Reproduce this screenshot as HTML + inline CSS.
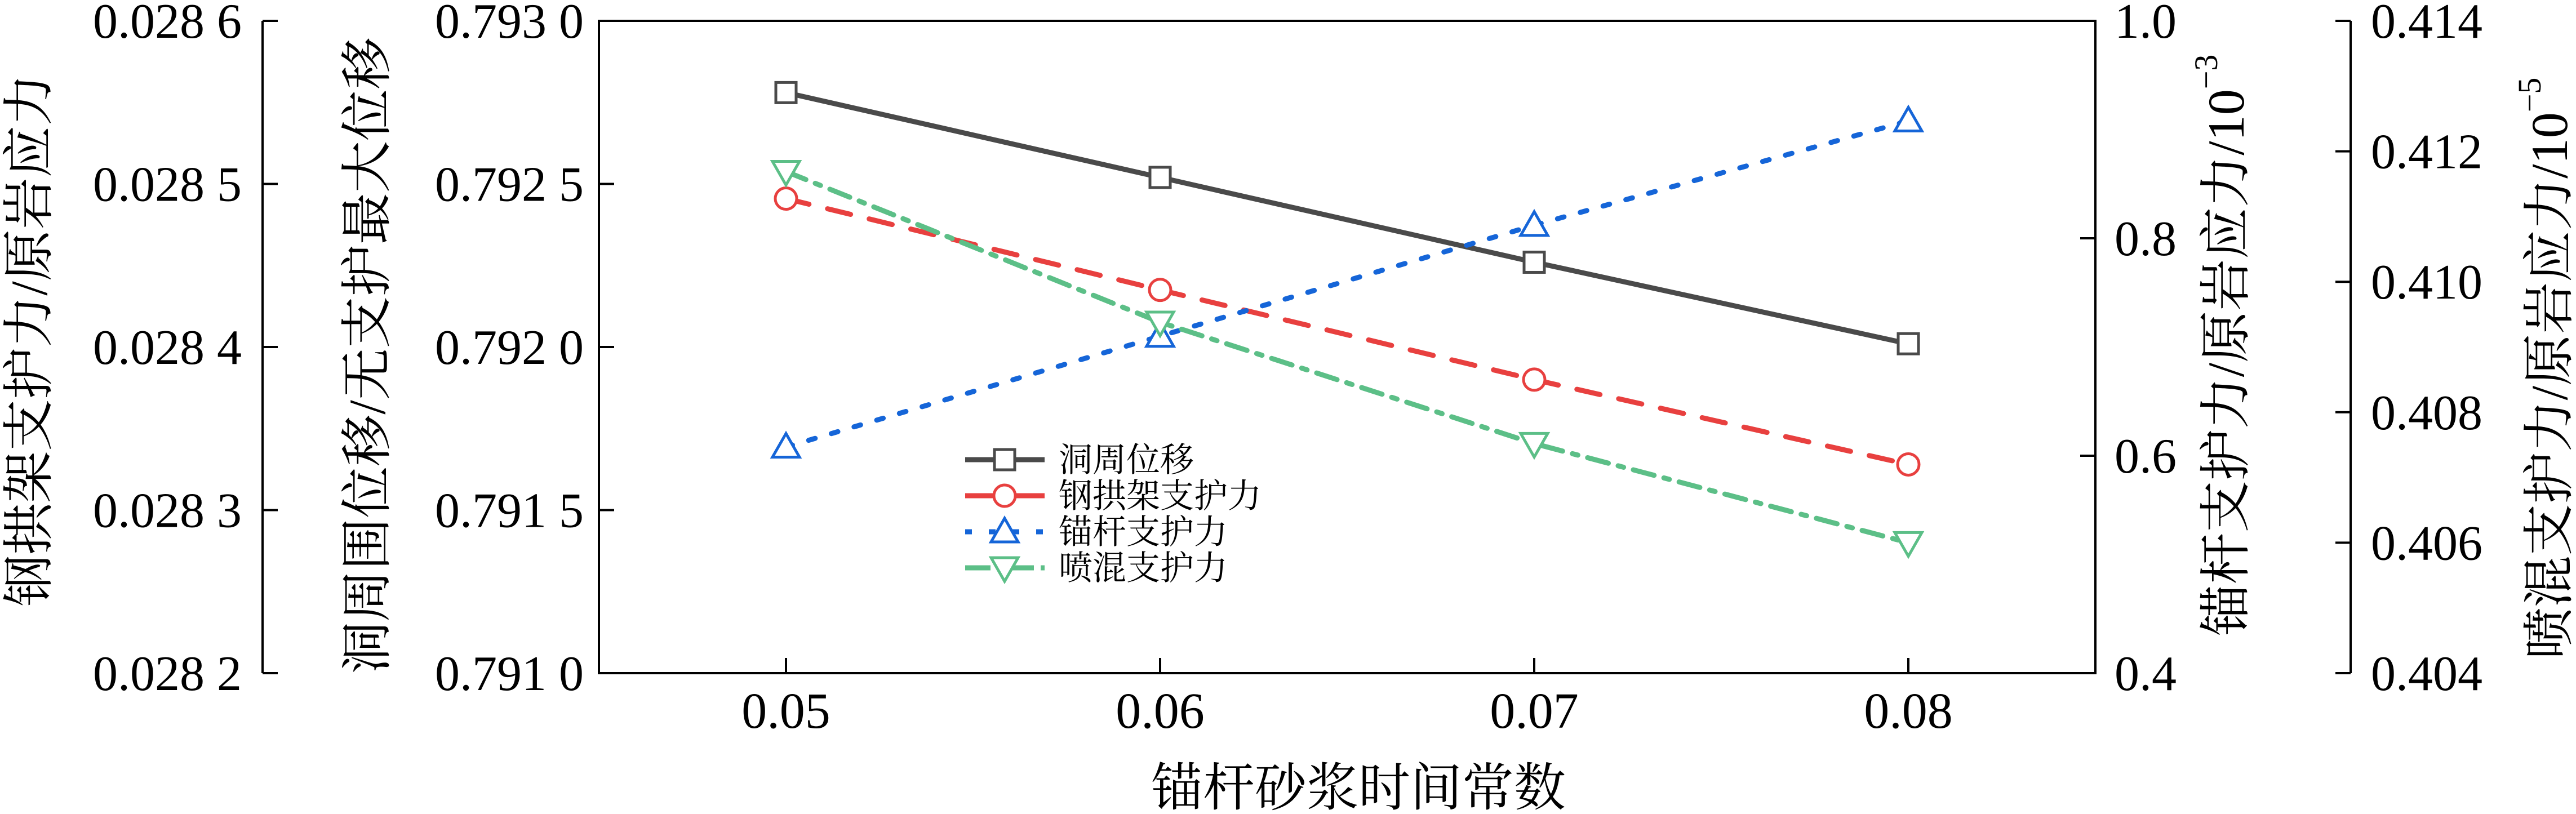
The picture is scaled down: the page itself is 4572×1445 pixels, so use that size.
<!DOCTYPE html>
<html><head><meta charset="utf-8"><style>
html,body{margin:0;padding:0;background:#fff;}
svg{display:block;}
text{font-family:"Liberation Serif","Noto Serif CJK SC",serif;fill:#000;}
</style></head><body>
<svg id="chart" width="4572" height="1445" viewBox="0 0 4572 1445" xmlns="http://www.w3.org/2000/svg">
<g id="axes"></g>
<g id="series"></g>
<g id="legend"></g>
</svg>
<script>
const categories = [0.05, 0.06, 0.07, 0.08];
const xTicks = [0.05, 0.06, 0.07, 0.08];
const xTickLabels = ["0.05", "0.06", "0.07", "0.08"];
const dispValues = [0.79278, 0.79252, 0.79226, 0.79201];
const archValues = [0.028491, 0.028435, 0.028380, 0.028328];
const boltValues = [0.608, 0.710, 0.812, 0.908];
const shotValues = [0.41169, 0.40938, 0.40752, 0.40600];
const mainTicks = [0.7910, 0.7915, 0.7920, 0.7925, 0.7930];
const mainTickLabels = ["0.791 0", "0.791 5", "0.792 0", "0.792 5", "0.793 0"];
const archTicks = [0.0282, 0.0283, 0.0284, 0.0285, 0.0286];
const archTickLabels = ["0.028 2", "0.028 3", "0.028 4", "0.028 5", "0.028 6"];
const boltTicks = [0.4, 0.6, 0.8, 1.0];
const boltTickLabels = ["0.4", "0.6", "0.8", "1.0"];
const shotTicks = [0.404, 0.406, 0.408, 0.410, 0.412, 0.414];
const shotTickLabels = ["0.404", "0.406", "0.408", "0.410", "0.412", "0.414"];
const legendLabels = ["洞周位移", "钢拱架支护力", "锚杆支护力", "喷混支护力"];

const NS = "http://www.w3.org/2000/svg";
const L = 1063, R = 3719, T = 37, B = 1195;
const xScale = v => L + (v - 0.045) / (0.085 - 0.045) * (R - L);
const mk = (lo, hi) => v => B - (v - lo) / (hi - lo) * (B - T);
const yMain = mk(0.7910, 0.7930);
const yArch = mk(0.0282, 0.0286);
const yBolt = mk(0.4, 1.0);
const yShot = mk(0.404, 0.414);

function el(tag, attrs, parent) {
  const e = document.createElementNS(NS, tag);
  for (const k in attrs) e.setAttribute(k, attrs[k]);
  parent.appendChild(e);
  return e;
}
const axes = document.getElementById('axes');
const series = document.getElementById('series');
const legend = document.getElementById('legend');

// plot frame
const frame = el('rect', {x: L, y: T, width: R - L, height: B - T, fill: 'none', stroke: '#000', 'stroke-width': 4}, axes);



// x ticks
xTicks.forEach((v, i) => {
  const x = xScale(v);
  const t = el('line', {x1: x, x2: x, y1: B, y2: B - 27, stroke: '#000', 'stroke-width': 4}, axes);
  
  
  const lb = el('text', {x: x, y: 1292, 'font-size': 90, 'text-anchor': 'middle'}, axes);
  lb.textContent = xTickLabels[i];
  
  
});
const xt = el('text', {x: 2411, y: 1430, 'font-size': 92, 'text-anchor': 'middle'}, axes);
xt.textContent = '锚杆砂浆时间常数';



// generic y axis
function yAxis(ticks, labels, scale, spineX, dir, labelX, anchor, name) {
  if (spineX !== null) {
    const s = el('line', {x1: spineX, x2: spineX, y1: T, y2: B, stroke: '#000', 'stroke-width': 4}, axes);
    
    
  }
  const sx = spineX !== null ? spineX : (dir > 0 ? L : R);
  ticks.forEach((v, i) => {
    const y = scale(v);
    const t = el('line', {x1: sx, x2: sx + dir * 27, y1: y, y2: y, stroke: '#000', 'stroke-width': 4}, axes);
    
    
    const lb = el('text', {x: labelX, y: y + 30, 'font-size': 88, 'text-anchor': anchor}, axes);
    lb.textContent = labels[i];
    
    
  });
}
yAxis(mainTicks, mainTickLabels, yMain, null, 1, 1036, 'end', 'displacement-axis');
yAxis(archTicks, archTickLabels, yArch, 466, 1, 429, 'end', 'arch-axis');
yAxis(boltTicks, boltTickLabels, yBolt, null, -1, 3753, 'start', 'bolt-axis');
yAxis(shotTicks, shotTickLabels, yShot, 4172, -1, 4208, 'start', 'shotcrete-axis');

function vTitle(cx, cy, txt, sup, name) {
  const t = el('text', {x: 0, y: 0, 'font-size': 92, 'text-anchor': 'middle', 'dominant-baseline': 'central', transform: `translate(${cx},${cy}) rotate(-90)`}, axes);
  t.textContent = txt;
  if (sup) {
    const s = el('tspan', {'font-size': 58, dy: -36}, t);
    s.textContent = sup;
  }
  
  
}
vTitle(52, 604, '钢拱架支护力/原岩应力', null, 'arch-axis-title');
vTitle(652, 631, '洞周围位移/无支护最大位移', null, 'displacement-axis-title');
vTitle(3951, 613, '锚杆支护力/原岩应力/10', '−3', 'bolt-axis-title');
vTitle(4525, 654, '喷混支护力/原岩应力/10', '−5', 'shotcrete-axis-title');

const styles = [
  {vals: dispValues, scale: yMain, color: '#4a4a4a', dash: '', marker: 'square', name: 'displacement'},
  {vals: archValues, scale: yArch, color: '#e8403f', dash: '42 34', marker: 'circle', name: 'arch-force'},
  {vals: boltValues, scale: yBolt, color: '#1565d8', dash: '12 30', marker: 'tri-up', name: 'bolt-force'},
  {vals: shotValues, scale: yShot, color: '#5cbf87', dash: '38 18 10 18', marker: 'tri-down', name: 'shotcrete-force'}
];
function marker(type, x, y, color, parent) {
  let m;
  if (type === 'square') m = el('rect', {x: x - 18, y: y - 18, width: 36, height: 36, fill: '#fff', stroke: color, 'stroke-width': 5}, parent);
  else if (type === 'circle') m = el('circle', {cx: x, cy: y, r: 19, fill: '#fff', stroke: color, 'stroke-width': 5}, parent);
  else if (type === 'tri-up') m = el('polygon', {points: `${x},${y - 24} ${x - 24},${y + 18} ${x + 24},${y + 18}`, fill: '#fff', stroke: color, 'stroke-width': 5, 'stroke-linejoin': 'miter'}, parent);
  else m = el('polygon', {points: `${x},${y + 24} ${x - 24},${y - 18} ${x + 24},${y - 18}`, fill: '#fff', stroke: color, 'stroke-width': 5}, parent);
  return m;
}
styles.forEach(s => {
  const pts = categories.map((c, i) => `${xScale(c)},${s.scale(s.vals[i])}`).join(' ');
  const line = el('polyline', {points: pts, fill: 'none', stroke: s.color, 'stroke-width': 9, 'stroke-dasharray': s.dash, 'stroke-linecap': 'round'}, series);
  
  
  categories.forEach((c, i) => {
    const m = marker(s.marker, xScale(c), s.scale(s.vals[i]), s.color, series);
    
    
  });
});

// legend
const legYs = [816, 880, 944, 1008];
styles.forEach((s, i) => {
  const y = legYs[i];
  const ln = el('line', {x1: 1713, x2: 1854, y1: y, y2: y, stroke: s.color, 'stroke-width': 9, 'stroke-dasharray': s.dash ? (i === 2 ? '12 30' : (i === 1 ? '60 0' : '45 12 8 12')) : ''}, legend);
  
  
  const m = marker(s.marker, 1783, y, s.color, legend);
  
  
  const t = el('text', {x: 1879, y: y + 21, 'font-size': 60}, legend);
  t.textContent = legendLabels[i];
  
  
});
</script>
</body></html>
